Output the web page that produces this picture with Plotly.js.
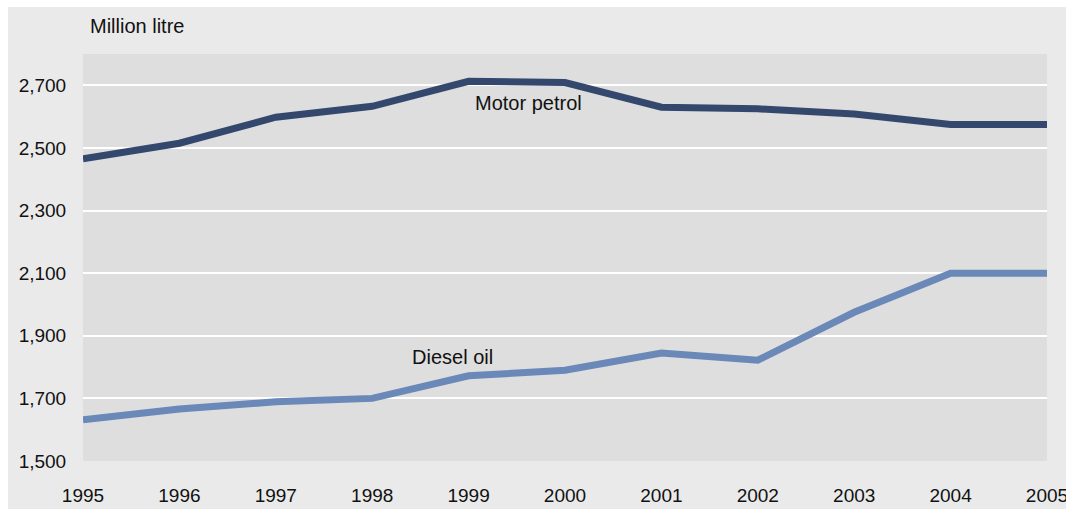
<!DOCTYPE html>
<html><head><meta charset="utf-8">
<script src="https://cdn.plot.ly/plotly-3.0.1.min.js"></script>
<style>html,body{margin:0;padding:0;background:#ffffff;}</style>
</head><body>
<div id="chart" style="width:1066px;height:511px;"></div>
<script>
const years = [1995,1996,1997,1998,1999,2000,2001,2002,2003,2004,2005];
const motorPetrol = [2465,2515,2598,2633,2713,2709,2630,2625,2608,2575,2575];
const dieselOil = [1632,1666,1689,1700,1772,1790,1845,1822,1975,2100,2100];
const seriesNames = ['Motor petrol','Diesel oil'];
const yTicks = [1500,1700,1900,2100,2300,2500,2700];

const FONT = 'Liberation Sans Narrow, Arial Narrow, sans-serif';
const FS = 20;
const TFS = 19;
const W = 1066, H = 511;
const M = {l: 83, r: 19, t: 54, b: 50};
const pw = W - M.l - M.r, ph = H - M.t - M.b;
const px = v => (v - M.l) / pw;
const py = v => (H - M.b - v) / ph;

const traces = [
  {x: years, y: motorPetrol, name: seriesNames[0], mode: 'lines', line: {color: '#34486e', width: 7}},
  {x: years, y: dieselOil, name: seriesNames[1], mode: 'lines', line: {color: '#6a88b8', width: 7}}
];
const layout = {
  width: W, height: H,
  paper_bgcolor: '#ffffff', plot_bgcolor: 'rgba(0,0,0,0)',
  margin: M,
  showlegend: false,
  separators: '.,',
  font: {family: FONT, size: FS, color: '#111'},
  title: {text: 'Million litre', x: 90/W, xanchor: 'left', xref: 'container', y: 1 - 26/H, yanchor: 'middle', yref: 'container', font: {family: FONT, size: FS, color: '#111'}},
  xaxis: {range: [1995, 2005], tickvals: years, ticktext: years.map(String), showgrid: false, zeroline: false, showline: false,
          ticks: 'outside', ticklen: 17, tickcolor: 'rgba(0,0,0,0)', ticklabeloverflow: 'allow', fixedrange: true,
          tickfont: {family: FONT, size: TFS, color: '#111'}},
  yaxis: {range: [1500, 2800], tickvals: yTicks, tickformat: ',', showgrid: true, gridcolor: '#ffffff', gridwidth: 2,
          zeroline: false, showline: false, ticks: 'outside', ticklen: 12, tickcolor: 'rgba(0,0,0,0)', fixedrange: true,
          tickfont: {family: FONT, size: TFS, color: '#111'}},
  shapes: [
    {type: 'rect', xref: 'paper', yref: 'paper', x0: px(8), x1: px(W), y0: py(509), y1: py(7), fillcolor: '#eaeaea', line: {width: 0}, layer: 'below'},
    {type: 'rect', xref: 'paper', yref: 'paper', x0: 0, x1: 1, y0: 0, y1: 1, fillcolor: '#dedede', line: {width: 0}, layer: 'below'}
  ],
  annotations: [
    {x: 1999.62, y: 2642, xref: 'x', yref: 'y', text: seriesNames[0], showarrow: false, font: {family: FONT, size: FS, color: '#111'}},
    {x: 1998.83, y: 1833, xref: 'x', yref: 'y', text: seriesNames[1], showarrow: false, font: {family: FONT, size: FS, color: '#111'}}
  ]
};
Plotly.newPlot('chart', traces, layout, {displayModeBar: false, staticPlot: true});
</script>
</body></html>
